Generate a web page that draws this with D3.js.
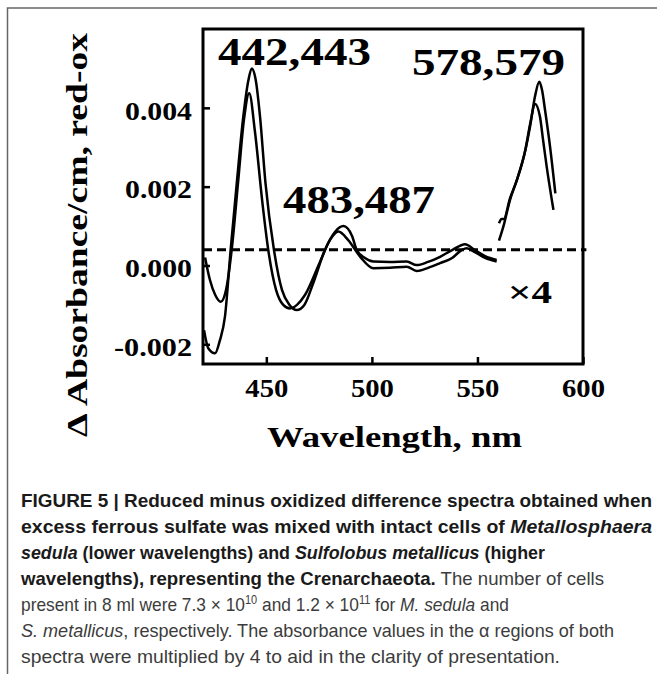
<!DOCTYPE html>
<html>
<head>
<meta charset="utf-8">
<script src="https://cdn.jsdelivr.net/npm/d3@7"></script>
<style>
  body { margin: 0; background: #fff; }
  svg { display: block; }
</style>
</head>
<body>
<svg id="chart"></svg>
<script>
// trace 1: 443 / 487 peaks (deeper trough at left)
const wl1 = [420.5, 422.5, 425.7, 428, 430.4, 433.1, 436, 439.1, 441.5, 443.1, 445, 447, 449.6, 453.6, 457.4, 461, 464.4, 468, 472.2, 477.8, 482.5, 486.5, 490.6, 492.8, 496.7, 500.7, 508.6, 516.5, 521.2, 526.6, 532.3, 538, 544.1, 548.8, 553.6, 559.1];
const abs1 = [-0.00164, -0.0021, -0.00223, -0.0019, -0.0013, 0.0004, 0.00209, 0.00378, 0.0047, 0.0050, 0.0047, 0.00378, 0.00209, 0.0004, -0.00062, -0.001, -0.00113, -0.001, -0.00045, 0.0004, 0.00085, 0.0010, 0.00075, 0.00039, 0.00019, 0.0001, 0.00009, 0.0001, 0.00001, 0.00009, 0.00022, 0.00039, 0.00054, 0.00039, 0.00024, 0.00014];

// trace 2: 442 / 483 peaks
const wl2 = [421, 423.3, 425.8, 428.4, 430.9, 433.6, 436.6, 439.4, 441.9, 444.6, 448, 450.9, 454.6, 458, 461.2, 464.5, 468.3, 475.4, 480.2, 484.1, 488.7, 494.5, 500.7, 508.6, 516.5, 521.2, 526.6, 532.3, 538, 542.5, 544.9, 548.8, 553.6, 559.1];
const abs2 = [0.0002, -0.00037, -0.00075, -0.00092, -0.00062, 0.0004, 0.0021, 0.0037, 0.00437, 0.0034, 0.00166, 0.0004, -0.00062, -0.001, -0.00109, -0.001, -0.00075, 0.00009, 0.00065, 0.00086, 0.00065, 0.00022, -0.00007, -0.00006, -0.00003, -0.00014, -0.00006, 0.00006, 0.00019, 0.00039, 0.00044, 0.00034, 0.00019, 0.0001];

// alpha region (x4), 579 peak
const wl3 = [560.2, 562.5, 565.4, 568.7, 572.7, 574.9, 577.3, 579.3, 580.6, 582, 584.4, 586.9];
const abs3 = [0.00063, 0.00103, 0.00166, 0.00217, 0.00293, 0.00352, 0.0043, 0.00466, 0.00445, 0.00395, 0.00301, 0.00183];

// alpha region (x4), 578 peak
const wl4 = [560.2, 561.4, 562.5, 565.4, 568.7, 572.7, 575, 577.3, 579.6, 581.1, 582.8, 586];
const abs4 = [0.00107, 0.00118, 0.00118, 0.0017, 0.00217, 0.00293, 0.0036, 0.0041, 0.00378, 0.00318, 0.00251, 0.00141];

const xTicks = [450, 500, 550, 600];
const yTicks = [-0.002, 0, 0.002, 0.004];
const baseline = 0.0004;
const peakLabels = ["442,443", "483,487", "578,579"];
const scaleLabel = "\u00d74";

const captionLines = [
  [["FIGURE 5 | Reduced minus oxidized difference spectra obtained when", "b"]],
  [["excess ferrous sulfate was mixed with intact cells of ", "b"], ["Metallosphaera", "bi"]],
  [["sedula", "bi"], [" (lower wavelengths) and ", "b"], ["Sulfolobus metallicus", "bi"], [" (higher", "b"]],
  [["wavelengths), representing the Crenarchaeota.", "b"], [" The number of cells", "r"]],
  [["present in 8 ml were 7.3 \u00d7 10", "r"], ["10", "sup"], [" and 1.2 \u00d7 10", "r"], ["11", "sup"], [" for ", "r"], ["M. sedula", "i"], [" and", "r"]],
  [["S. metallicus", "i"], [", respectively. The absorbance values in the \u03b1 regions of both", "r"]],
  [["spectra were multiplied by 4 to aid in the clarity of presentation.", "r"]]
];
const captionWidths = [631, 631, 524, 583, 488, 593, 539];

const width = 657, height = 674;
const serif = "'Liberation Serif', 'Times New Roman', serif";
const sans = "'Liberation Sans', Arial, sans-serif";

const svg = d3.select("#chart").attr("width", width).attr("height", height);

// figure frame (top + left edge)
svg.append("path")
  .attr("d", `M7.5,${height} V8 H${width}`)
  .attr("fill", "none").attr("stroke", "#666").attr("stroke-width", 1.5);

const x = d3.scaleLinear().domain([420, 600]).range([203, 583]);
const y = d3.scaleLinear().domain([-0.0025, 0.006]).range([364, 29]);

// dashed baseline
svg.append("line")
  .attr("x1", x(420)).attr("x2", x(601.6))
  .attr("y1", y(baseline)).attr("y2", y(baseline))
  .attr("stroke", "#000").attr("stroke-width", 3)
  .attr("stroke-dasharray", "9,5");

const line = d3.line()
  .x(d => x(d[0]))
  .y(d => y(d[1]))
  .curve(d3.curveMonotoneX);

const traces = [[wl1, abs1], [wl2, abs2], [wl3, abs3], [wl4, abs4]];
svg.selectAll(".trace")
  .data(traces).enter().append("path")
  .attr("class", "trace")
  .attr("d", t => line(t[0].map((w, i) => [w, t[1][i]])))
  .attr("fill", "none")
  .attr("stroke", "#000")
  .attr("stroke-width", 2.5)
  .attr("stroke-linejoin", "round");

// plot box
svg.append("rect")
  .attr("x", x(420)).attr("y", y(0.006))
  .attr("width", x(600) - x(420)).attr("height", y(-0.0025) - y(0.006))
  .attr("fill", "none").attr("stroke", "#000").attr("stroke-width", 3);

// axes
const xAxis = svg.append("g")
  .attr("transform", `translate(0,${y(-0.0025)})`)
  .call(d3.axisBottom(x).tickValues(xTicks).tickSizeInner(-7).tickSizeOuter(0).tickPadding(15));
const yAxis = svg.append("g")
  .attr("transform", `translate(${x(420)},0)`)
  .call(d3.axisLeft(y).tickValues(yTicks).tickFormat(d => d.toFixed(3)).tickSizeInner(-7).tickSizeOuter(0).tickPadding(11));

[xAxis, yAxis].forEach(g => {
  g.select(".domain").remove();
  g.selectAll("line").attr("stroke", "#000").attr("stroke-width", 2.5);
  g.selectAll("text")
    .attr("fill", "#000")
    .style("font-family", serif)
    .style("font-size", "25px")
    .style("font-weight", "bold")
    .attr("lengthAdjust", "spacingAndGlyphs");
});
xAxis.selectAll("text").attr("textLength", 43);
yAxis.selectAll("text").attr("dy", "0.45em").attr("textLength", d => d < 0 ? 78 : 67);

// peak labels
const labelPos = [[218, 65, 153, 40], [283, 213, 152, 40], [412, 75, 153, 38]];
svg.selectAll(".peak")
  .data(peakLabels).enter().append("text")
  .attr("class", "peak")
  .attr("x", (d, i) => labelPos[i][0])
  .attr("y", (d, i) => labelPos[i][1])
  .attr("textLength", (d, i) => labelPos[i][2])
  .attr("lengthAdjust", "spacingAndGlyphs")
  .style("font-size", (d, i) => labelPos[i][3] + "px")
  .style("font-family", serif)
  .style("font-weight", "bold")
  .text(d => d);

svg.append("text")
  .attr("x", 508).attr("y", 303)
  .attr("textLength", 44).attr("lengthAdjust", "spacingAndGlyphs")
  .style("font-family", serif).style("font-size", "32px").style("font-weight", "bold")
  .text(scaleLabel);

// axis titles
svg.append("text")
  .attr("x", 267).attr("y", 447)
  .attr("textLength", 255).attr("lengthAdjust", "spacingAndGlyphs")
  .style("font-family", serif).style("font-size", "30px").style("font-weight", "bold")
  .text("Wavelength, nm");

svg.append("text")
  .attr("transform", "translate(86.5,437) rotate(-90)")
  .attr("textLength", 404).attr("lengthAdjust", "spacingAndGlyphs")
  .style("font-family", serif).style("font-size", "30px").style("font-weight", "bold")
  .text("\u0394 Absorbance/cm, red-ox");

// caption
const cap = svg.append("g").style("font-family", sans).style("font-size", "19px");
captionLines.forEach((segs, i) => {
  const t = cap.append("text")
    .attr("x", 21).attr("y", 506.5 + i * 26)
    .attr("textLength", captionWidths[i])
    .attr("lengthAdjust", "spacingAndGlyphs");
  segs.forEach(([s, st]) => {
    const ts = t.append("tspan").text(s);
    if (st === "b" || st === "bi") ts.style("font-weight", "bold").attr("fill", "#1a1a1a");
    else ts.attr("fill", "#3c3c3c");
    if (st === "bi" || st === "i") ts.style("font-style", "italic");
    if (st === "sup") ts.attr("dy", -7).style("font-size", "12px");
  });
  // reset baseline after superscripts
  t.selectAll("tspan").each(function(d, j, nodes) {
    if (j > 0 && d3.select(nodes[j - 1]).attr("dy") === "-7") d3.select(this).attr("dy", 7);
  });
});
</script>
</body>
</html>
